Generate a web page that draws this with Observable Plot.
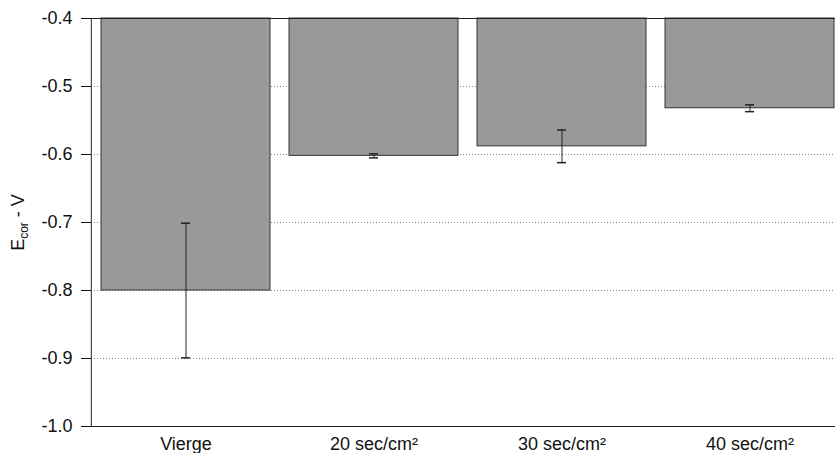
<!DOCTYPE html>
<html><head><meta charset="utf-8">
<script src="https://cdn.jsdelivr.net/npm/d3@7"></script>
<script src="https://cdn.jsdelivr.net/npm/@observablehq/plot@0.6"></script>
<style>html,body{margin:0;padding:0;background:#fff;overflow:hidden}</style>
</head><body><div id="chart"></div>
<script>
const categories = ["Vierge", "20 sec/cm²", "30 sec/cm²", "40 sec/cm²"];
const values = [-0.800, -0.602, -0.588, -0.532];
const errors = [0.099, 0.003, 0.024, 0.005];
const yTicks = [-1.0, -0.9, -0.8, -0.7, -0.6, -0.5, -0.4];
const gridValues = [-0.9, -0.8, -0.7, -0.6, -0.5];
const yLabelMain = "E";
const yLabelSub = "cor";
const yLabelRest = " - V";

const data = categories.map((c, i) => ({cat: c, value: values[i], err: errors[i]}));

const xRange = [91, 845];
const padIn = 0.1, padOut = 0.053;
const step = (xRange[1] - xRange[0]) / (categories.length - padIn + 2 * padOut);
// offset from first band centre back to the left edge of the x range (axis line)
const axisOffset = -(padOut * step + (1 - padIn) * step / 2);

const plot = Plot.plot({
  width: 835, height: 453,
  marginLeft: 91, marginRight: 0, marginTop: 18, marginBottom: 27,
  style: {fontFamily: "'Liberation Sans', Arial, sans-serif", fontSize: "18px", color: "#111", background: "#fff", overflow: "hidden"},
  x: {domain: categories, range: xRange, paddingInner: padIn, paddingOuter: padOut, label: null},
  y: {domain: [-1.0, -0.4], label: null},
  marks: [
    Plot.gridY(gridValues, {stroke: "#7f7fa8", strokeOpacity: 1, strokeDasharray: "1,2"}),
    Plot.barY(data, {x: "cat", y1: -0.4, y2: "value", fill: "#999999", stroke: "#333", strokeWidth: 1}),
    Plot.ruleX(data, {x: "cat", y1: d => d.value - d.err, y2: d => d.value + d.err, stroke: "#222"}),
    Plot.tickY(data, {x: "cat", y: d => d.value - d.err, stroke: "#222", strokeWidth: 1.5, inset: 80}),
    Plot.tickY(data, {x: "cat", y: d => d.value + d.err, stroke: "#222", strokeWidth: 1.5, inset: 80}),
    Plot.ruleY([-0.4, -1.0], {stroke: "#222"}),
    Plot.ruleX([categories[0]], {y1: -1.0, y2: -0.4, dx: axisOffset, stroke: "#222"}),
    Plot.axisY(yTicks, {tickSize: 10, tickPadding: 9, tickFormat: d => d.toFixed(1), fontSize: 18,
      label: yLabelMain + yLabelSub + yLabelRest, labelAnchor: "center", labelOffset: 80, labelArrow: "none"}),
    Plot.axisX({tickSize: 0, tickPadding: 11, fontSize: 18, label: null})
  ]
});

document.getElementById("chart").appendChild(plot);

// subscript in y label
const lab = d3.select(plot).select('g[aria-label="y-axis label"] text');
if (!lab.empty()) {
  lab.text(null).attr("font-size", 18);
  lab.append("tspan").text(yLabelMain);
  lab.append("tspan").attr("font-size", 12).attr("dy", 4).text(yLabelSub);
  lab.append("tspan").attr("dy", -4).text(yLabelRest);
}
</script>
</body></html>
